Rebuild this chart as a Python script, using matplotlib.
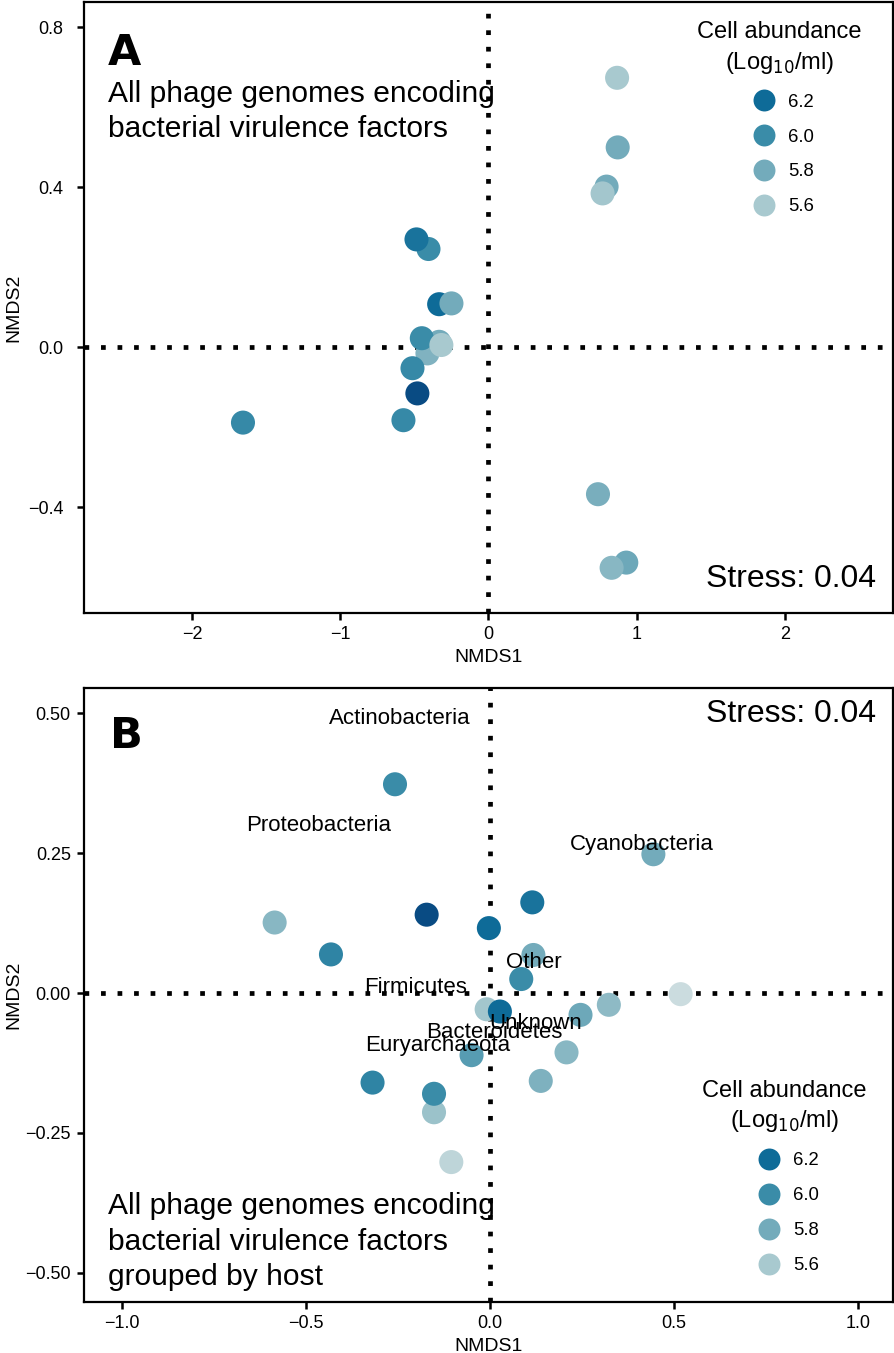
import matplotlib.pyplot as plt
from matplotlib.colors import LinearSegmentedColormap, Normalize
from matplotlib.lines import Line2D

plt.rcParams['font.family'] = ['Liberation Sans', 'DejaVu Sans']

# Panel A: NMDS of all phage genomes encoding virulence factors
a_x = [0.868, 0.872, 0.797, 0.770, -0.405, -0.486, -0.333, -0.250,
       -0.333, -0.412, -0.450, -0.318, -0.513, -0.480, -0.574, -1.657,
       0.739, 0.930, 0.831]
a_y = [0.673, 0.499, 0.401, 0.384, 0.245, 0.269, 0.107, 0.109,
       0.013, -0.016, 0.022, 0.005, -0.053, -0.116, -0.183, -0.189,
       -0.368, -0.539, -0.552]
a_abund = [5.60, 5.80, 5.80, 5.62, 6.00, 6.15, 6.20, 5.80,
           5.80, 5.75, 6.00, 5.60, 6.02, 6.35, 6.02, 6.02,
           5.78, 5.82, 5.72]

# Panel B: grouped by host
b_x = [-0.257, 0.445, -0.584, -0.431, -0.171, -0.002, 0.116, 0.119,
       0.086, -0.008, 0.028, 0.247, 0.324, 0.519, -0.049, 0.209,
       0.139, -0.318, -0.151, -0.151, -0.104]
b_y = [0.373, 0.248, 0.126, 0.069, 0.140, 0.116, 0.162, 0.068,
       0.025, -0.029, -0.033, -0.039, -0.021, -0.002, -0.111, -0.106,
       -0.157, -0.160, -0.213, -0.180, -0.302]
b_abund = [6.00, 5.80, 5.72, 6.05, 6.35, 6.20, 6.15, 5.80,
           6.00, 5.62, 6.20, 5.82, 5.70, 5.52, 5.90, 5.72,
           5.76, 6.05, 5.65, 6.00, 5.55]

hosts = ['Actinobacteria', 'Proteobacteria', 'Cyanobacteria', 'Other',
         'Firmicutes', 'Unknown', 'Bacteroidetes', 'Euryarchaeota']
host_x = [-0.243, -0.465, 0.414, 0.119, -0.200, 0.125, 0.012, -0.140]
host_y = [0.491, 0.299, 0.266, 0.055, 0.010, -0.055, -0.071, -0.094]

legend_vals = [6.2, 6.0, 5.8, 5.6]
stress = 0.04

cmap = LinearSegmentedColormap.from_list('abund', [
    (0.0, '#d3e0e2'), (0.111, '#a8c9cf'), (0.333, '#73abbb'),
    (0.556, '#3a8ca8'), (0.778, '#0e6b98'), (1.0, '#08407c')])
norm = Normalize(5.5, 6.4)

fig = plt.figure(figsize=(8.95, 13.53), dpi=100)
axA = fig.add_axes([0.09385, 0.54693, 0.9039, 0.45159])
axB = fig.add_axes([0.09385, 0.03769, 0.9039, 0.45381])


def style(ax, ypad):
    ax.axhline(0, color='black', lw=3.4, ls=(0, (1, 2.5)), dash_capstyle='butt', zorder=1)
    ax.axvline(0, color='black', lw=3.4, ls=(0, (1, 2.5)), dash_capstyle='butt', zorder=1)
    for s in ax.spines.values():
        s.set_linewidth(1.6)
    ax.tick_params(length=5, width=1.8, labelsize=13)
    ax.tick_params(axis='x', pad=4)
    ax.tick_params(axis='y', pad=ypad)
    ax.set_xlabel('NMDS1', fontsize=14, labelpad=5)
    ax.set_ylabel('NMDS2', fontsize=14, ha='center', va='center')
    ax.yaxis.set_label_coords(-0.0865, 0.5)


def add_legend(ax, anchor):
    handles = [Line2D([], [], ls='none', marker='o', markersize=15.8,
                      markerfacecolor=cmap(norm(v)), markeredgewidth=0)
               for v in legend_vals]
    leg = ax.legend(handles, [f'{v:.1f}' for v in legend_vals],
                    title='Cell abundance\n(Log$_{10}$/ml)', title_fontsize=17,
                    fontsize=13.3, frameon=False, loc='upper center',
                    bbox_to_anchor=anchor, labelspacing=0.97,
                    handletextpad=0.3, borderpad=0)
    leg.get_title().set_multialignment('center')
    leg.get_title().set_linespacing(1.35)


# Panel A
style(axA, 10)
axA.scatter(a_x, a_y, c=a_abund, cmap=cmap, norm=norm, s=300, linewidths=0, zorder=3)
axA.set_xlim(-2.73, 2.73)
axA.set_ylim(-0.665, 0.8625)
axA.set_xticks([-2, -1, 0, 1, 2])
axA.set_yticks([-0.4, 0.0, 0.4, 0.8])
axA.set_yticklabels(['\u22120.4', '0.0', '0.4', '0.8'])
axA.set_xticklabels(['\u22122', '\u22121', '0', '1', '2'])
axA.text(0.030, 0.897, 'A', transform=axA.transAxes, fontsize=31,
         fontweight='heavy', family='DejaVu Sans', va='baseline')
axA.text(0.030, 0.779, 'All phage genomes encoding\nbacterial virulence factors',
         transform=axA.transAxes, fontsize=21.6, va='baseline', linespacing=1.33)
axA.text(0.979, 0.0426, f'Stress: {stress:.2f}', transform=axA.transAxes,
         fontsize=23, ha='right', va='baseline')
add_legend(axA, (0.86, 0.984))

# Panel B
style(axB, 4.5)
axB.scatter(b_x, b_y, c=b_abund, cmap=cmap, norm=norm, s=300, linewidths=0, zorder=3)
for name, hx, hy in zip(hosts, host_x, host_y):
    axB.text(hx, hy, name, fontsize=16, ha='center', va='center', zorder=4)
axB.set_xlim(-1.102, 1.096)
axB.set_ylim(-0.552, 0.545)
axB.set_xticks([-1.0, -0.5, 0.0, 0.5, 1.0])
axB.set_xticklabels(['\u22121.0', '\u22120.5', '0.0', '0.5', '1.0'])
axB.set_yticks([-0.5, -0.25, 0.0, 0.25, 0.5])
axB.set_yticklabels(['\u22120.50', '\u22120.25', '0.00', '0.25', '0.50'])
axB.text(0.032, 0.9023, 'B', transform=axB.transAxes, fontsize=31,
         fontweight='heavy', family='DejaVu Sans', va='baseline')
axB.text(0.030, 0.0277, 'All phage genomes encoding\nbacterial virulence factors\ngrouped by host',
         transform=axB.transAxes, fontsize=21.6, va='baseline', linespacing=1.33)
axB.text(0.979, 0.9446, f'Stress: {stress:.2f}', transform=axB.transAxes,
         fontsize=23, ha='right', va='baseline')
add_legend(axB, (0.866, 0.377))

fig.savefig('out.png', dpi=100)
